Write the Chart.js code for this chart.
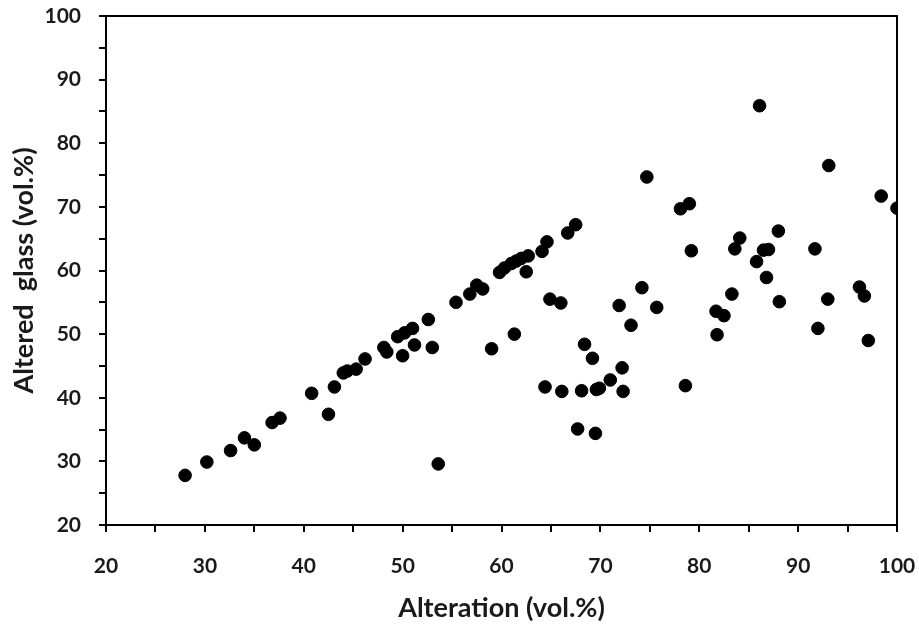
<!DOCTYPE html>
<html>
<head>
<meta charset="utf-8">
<script src="https://cdn.jsdelivr.net/npm/chart.js@4/dist/chart.umd.min.js"></script>
<style>
  html, body { margin: 0; padding: 0; background: #fff; }
  #wrap { width: 919px; height: 630px; }
</style>
</head>
<body>
<div id="wrap"><canvas id="scatterChart"></canvas></div>
<script>
// Alteration (vol.%) vs altered glass (vol.%)
const alteration = [
  28.0, 30.2, 32.6, 34.0, 35.0, 36.8, 37.6, 40.8, 42.5, 43.1,
  44.0, 44.4, 45.3, 46.2, 48.1, 48.4, 49.5, 50.0, 50.2, 51.0,
  51.2, 52.6, 53.0, 53.6, 55.4, 56.8, 57.5, 58.1, 59.0, 59.8,
  60.3, 61.0, 61.5, 62.0, 62.7, 62.5, 61.3, 64.1, 64.6, 64.4,
  64.9, 66.0, 66.1, 66.7, 67.5, 67.7, 68.1, 68.4, 69.2, 69.6,
  69.9, 69.5, 71.0, 71.9, 72.2, 72.3, 73.1, 74.2, 74.7, 75.7,
  78.1, 78.6, 79.0, 79.2, 81.7, 81.8, 82.5, 83.3, 83.6, 84.1,
  85.8, 86.1, 86.5, 86.8, 87.0, 88.0, 88.1, 91.7, 92.0, 93.0,
  93.1, 96.2, 96.7, 97.1, 98.4, 100.0
];
const alteredGlass = [
  27.8, 29.9, 31.7, 33.7, 32.6, 36.1, 36.8, 40.7, 37.4, 41.7,
  43.9, 44.2, 44.5, 46.1, 47.9, 47.2, 49.6, 46.6, 50.2, 50.9,
  48.3, 52.3, 47.9, 29.6, 55.0, 56.3, 57.7, 57.1, 47.7, 59.7,
  60.4, 61.1, 61.5, 61.9, 62.3, 59.8, 50.0, 63.0, 64.5, 41.7,
  55.5, 54.9, 41.0, 65.9, 67.2, 35.1, 41.1, 48.4, 46.2, 41.3,
  41.5, 34.4, 42.8, 54.5, 44.7, 41.0, 51.4, 57.3, 74.7, 54.2,
  69.7, 41.9, 70.5, 63.1, 53.6, 49.9, 52.9, 56.3, 63.4, 65.1,
  61.4, 85.9, 63.2, 58.9, 63.3, 66.2, 55.1, 63.4, 50.9, 55.5,
  76.5, 57.4, 56.0, 49.0, 71.7, 69.8
];
const xTicks = [20, 30, 40, 50, 60, 70, 80, 90, 100];
const yTicks = [20, 30, 40, 50, 60, 70, 80, 90, 100];

const points = alteration.map((x, i) => ({ x: x, y: alteredGlass[i] }));

// box round the plot area (top and right sides)
const frame = {
  id: "frame",
  afterDraw(chart) {
    const a = chart.chartArea;
    const c = chart.ctx;
    c.save();
    c.strokeStyle = "#000";
    c.lineWidth = 2;
    c.strokeRect(a.left, a.top, a.right - a.left, a.bottom - a.top);
    c.restore();
  },
};

const tickFont = { family: "Lato, 'Open Sans', sans-serif", size: 21, weight: "bold" };
const titleFont = { family: "Lato, 'Open Sans', sans-serif", size: 27, weight: "bold" };
const textColor = "#1a1a1a";

const ctx = document.getElementById("scatterChart").getContext("2d");
const scatterChart = new Chart(ctx, {
  type: "scatter",
  data: {
    datasets: [
      {
        label: "Samples",
        data: points,
        backgroundColor: "#000",
        borderColor: "#000",
        pointRadius: 6.3,
        pointHoverRadius: 6.3,
      },
    ],
  },
  options: {
    responsive: true,
    maintainAspectRatio: false,
    animation: false,
    layout: { padding: { top: 16, right: 22, bottom: 4, left: 4 } },
    plugins: {
      legend: { display: false },
      tooltip: { enabled: false },
    },
    scales: {
      x: {
        type: "linear",
        min: 20,
        max: 100,
        afterFit: (s) => { s.height = 101; s.paddingLeft = 0; s.paddingRight = 0; },
        grid: { display: true, drawOnChartArea: false, drawTicks: true, tickLength: 7, color: "#000", lineWidth: 2 },
        border: { display: true, color: "#000", width: 2 },
        ticks: {
          stepSize: 5,
          color: textColor,
          font: tickFont,
          padding: 22,
          maxRotation: 0,
          autoSkip: false,
          callback: (v) => (xTicks.includes(v) ? v : ""),
        },
        title: { display: true, text: "Alteration (vol.%)", color: textColor, font: titleFont, padding: { top: 0, bottom: 2 } },
      },
      y: {
        type: "linear",
        min: 20,
        max: 100,
        afterFit: (s) => { s.width = 102; s.paddingTop = 0; s.paddingBottom = 0; },
        grid: { display: true, drawOnChartArea: false, drawTicks: true, tickLength: 7, color: "#000", lineWidth: 2 },
        border: { display: true, color: "#000", width: 2 },
        ticks: {
          stepSize: 5,
          color: textColor,
          font: tickFont,
          padding: 18,
          autoSkip: false,
          callback: (v) => (yTicks.includes(v) ? v : ""),
        },
        title: { display: true, text: "Altered  glass (vol.%)", color: textColor, font: titleFont, padding: { top: 4, bottom: 0 } },
      },
    },
  },
  plugins: [frame],
});
</script>
</body>
</html>
